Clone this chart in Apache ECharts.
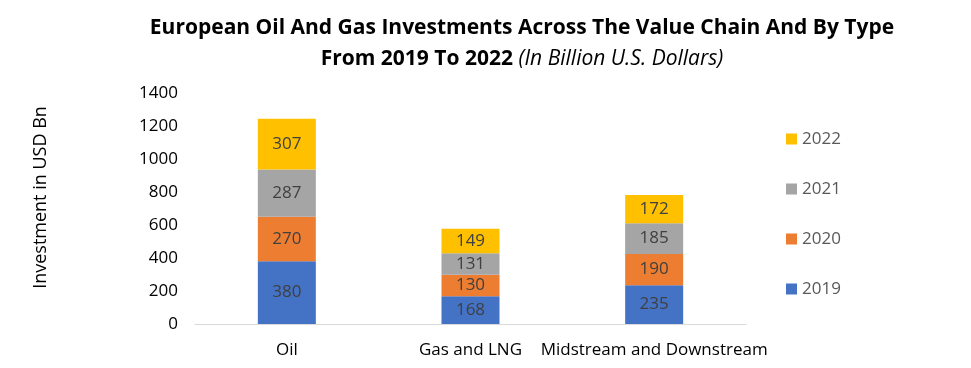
<!DOCTYPE html>
<html><head><meta charset="utf-8">
<script src="https://cdn.jsdelivr.net/npm/echarts@6/dist/echarts.min.js"></script>
<style>html,body{margin:0;padding:0;background:#fff}#c{width:971px;height:368px}</style>
</head><body><div id="c"></div>
<script>
const categories = ['Oil', 'Gas and LNG', 'Midstream and Downstream'];
const years = ['2019', '2020', '2021', '2022'];
const v2019 = [380, 168, 235];
const v2020 = [270, 130, 190];
const v2021 = [287, 131, 185];
const v2022 = [307, 149, 172];
const yTicks = [0, 200, 400, 600, 800, 1000, 1200, 1400];
const colors = ['#4472C4', '#ED7D31', '#A5A5A5', '#FFC000'];
const seriesValues = [v2019, v2020, v2021, v2022];
const FONT = '"Open Sans", sans-serif';
const chart = echarts.init(document.getElementById('c'));
chart.setOption({
  animation: false,
  textStyle: {fontFamily: FONT},
  title: {
    left: 517, top: 8, textAlign: 'center',
    text: '{b|European Oil And Gas Investments Across The Value Chain And By Type}\n{b|From 2019 To 2022 }{i|(In Billion U.S. Dollars)}',
    textStyle: {
      rich: {
        b: {fontFamily: FONT, fontWeight: 'bold', fontSize: 21, color: '#000', lineHeight: 31},
        i: {fontFamily: FONT, fontStyle: 'italic', fontWeight: 'normal', fontSize: 21, color: '#000', lineHeight: 31}
      }
    }
  },
  legend: {
    orient: 'vertical', left: 781, top: 124,
    data: ['2022', '2021', '2020', '2019'],
    itemWidth: 11, itemHeight: 11, itemGap: 30,
    icon: 'rect',
    textStyle: {fontFamily: FONT, fontSize: 17, color: '#595959', lineHeight: 20}
  },
  grid: {left: 195, right: 225, top: 93, bottom: 44, containLabel: false},
  xAxis: {
    type: 'category', data: categories,
    axisLine: {lineStyle: {color: '#D9D9D9'}},
    axisTick: {show: false},
    axisLabel: {fontFamily: FONT, fontSize: 17, color: '#000', margin: 18, interval: 0}
  },
  yAxis: {
    type: 'value', min: yTicks[0], max: yTicks[yTicks.length - 1], interval: 200,
    name: 'Investment in USD Bn', nameLocation: 'middle', nameGap: 145, nameRotate: 90,
    nameTextStyle: {fontFamily: FONT, fontSize: 18, color: '#000', padding: [0, 0, 0, 22]},
    axisLine: {show: false}, axisTick: {show: false},
    splitLine: {show: false},
    axisLabel: {fontFamily: FONT, fontSize: 17, color: '#000', margin: 17, formatter: v => String(v)}
  },
  series: years.map((y, i) => ({
    name: y, type: 'bar', stack: 'total', barWidth: 58,
    data: seriesValues[i],
    itemStyle: {color: colors[i]},
    label: {show: true, position: 'inside', fontFamily: FONT, fontSize: 17, color: '#404040'}
  }))
});
</script></body></html>
